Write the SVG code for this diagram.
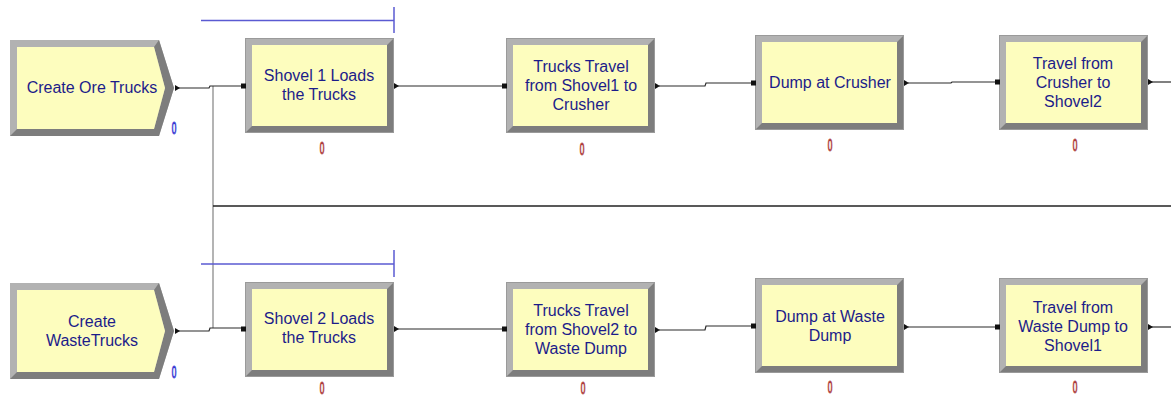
<svg xmlns="http://www.w3.org/2000/svg" xmlns:xlink="http://www.w3.org/1999/xlink" width="1171" height="398" viewBox="0 0 1171 398">
  <style>
    .lbl { font-family: "Liberation Sans", Arial, sans-serif; font-size: 16px; fill: #1c1c8a; text-anchor: middle; }
    .cnt { font-family: "Liberation Sans", Arial, sans-serif; font-size: 16.5px; text-anchor: middle; }
    .cnt-r { fill: #f6dada; stroke: #a83030; stroke-width: 1.1; }
    .cnt-b { fill: #dcdcff; stroke: #2b2bd0; stroke-width: 1.1; }
    .lite { fill: #b2b2b2; }
    .dark { fill: #7d7d7d; }
    .face { fill: #fdfdbe; }
    .link { fill: none; stroke: #2a2a2a; stroke-width: 1.2; }
    .bus { fill: none; stroke: #b4b4b4; stroke-width: 2; }
    .div { fill: none; stroke: #222; stroke-width: 1.5; }
    .res { fill: none; stroke: #5a5ad2; stroke-width: 1.5; }
    .pin { fill: #111; }
  </style>
  <defs>
    <!-- bevelled process module, 149 x 95 -->
    <g id="proc">
      <rect class="lite" x="0" y="0" width="149" height="95"/>
      <polygon class="dark" points="149,0 149,95 0,95 7,88 142,88 142,7"/>
      <rect class="face" x="7" y="7" width="135" height="81"/>
      <rect x="0.5" y="0.5" width="148" height="94" fill="none" stroke="#9a9a9a" stroke-width="1"/>
    </g>
    <!-- arrow-shaped create module, 164 x 96 -->
    <g id="create">
      <polygon class="lite" points="0,0 149,0 164,48 149,96 0,96"/>
      <polygon class="dark" points="149,0 164,48 149,96 0,96 7,89 144,89 155,48 144,7"/>
      <polygon class="face" points="7,7 144,7 155,48 144,89 7,89"/>
    </g>
    <rect id="entry" x="-4" y="-2.5" width="5" height="5" class="pin"/>
    <polygon id="exit" points="0,-3 5,0 0,3" class="pin"/>
  </defs>

  <rect width="1171" height="398" fill="#fff"/>

  <!-- connectors -->
  <g id="connectors">
    <!-- shared bus between the two create modules -->
    <polyline class="bus" points="213,86 213,328"/>
    <line class="div" x1="213" y1="206" x2="1171" y2="206"/>
    <!-- ore route -->
    <polyline class="link" points="178,88 209,88 210,86 241,86"/>
    <polyline class="link" points="397,86 502,86"/>
    <polyline class="link" points="659,86 705,86 706,83 751,83"/>
    <polyline class="link" points="908,83 951,83 952,82 995,82"/>
    <polyline class="link" points="1151,82 1171,82"/>
    <!-- waste route -->
    <polyline class="link" points="178,331 209,331 210,328 241,328"/>
    <polyline class="link" points="397,329 502,329"/>
    <polyline class="link" points="659,330 705,330 706,326 751,326"/>
    <polyline class="link" points="908,327 995,327"/>
    <polyline class="link" points="1151,327 1171,327"/>
    <!-- resource markers -->
    <polyline class="res" points="201,20.5 394,20.5"/>
    <line class="res" x1="394" y1="7" x2="394" y2="33"/>
    <polyline class="res" points="201,264 394,264"/>
    <line class="res" x1="394" y1="250" x2="394" y2="277"/>
  </g>

  <!-- ore truck line -->
  <g id="create-ore">
    <use xlink:href="#create" x="10" y="40"/>
    <use xlink:href="#exit" x="175" y="88"/>
    <text class="lbl" x="92" y="93">Create Ore Trucks</text>
    <text class="cnt cnt-b" transform="translate(174,134) scale(0.5,1)">0</text>
  </g>
  <g id="shovel1">
    <use xlink:href="#proc" x="245" y="38"/>
    <use xlink:href="#entry" x="245" y="86"/>
    <use xlink:href="#exit" x="394" y="86"/>
    <text class="lbl" x="319" y="81">Shovel 1 Loads</text>
    <text class="lbl" x="319" y="100">the Trucks</text>
    <text class="cnt cnt-r" transform="translate(322,154) scale(0.5,1)">0</text>
  </g>
  <g id="travel-shovel1-crusher">
    <use xlink:href="#proc" x="506" y="38"/>
    <use xlink:href="#entry" x="506" y="86"/>
    <use xlink:href="#exit" x="655" y="86"/>
    <text class="lbl" x="581" y="72">Trucks Travel</text>
    <text class="lbl" x="581" y="91">from Shovel1 to</text>
    <text class="lbl" x="581" y="110">Crusher</text>
    <text class="cnt cnt-r" transform="translate(582,155) scale(0.5,1)">0</text>
  </g>
  <g id="dump-crusher">
    <use xlink:href="#proc" x="755" y="35"/>
    <use xlink:href="#entry" x="755" y="83"/>
    <use xlink:href="#exit" x="904" y="83"/>
    <text class="lbl" x="830" y="88">Dump at Crusher</text>
    <text class="cnt cnt-r" transform="translate(830,151) scale(0.5,1)">0</text>
  </g>
  <g id="travel-crusher-shovel2">
    <use xlink:href="#proc" x="999" y="35"/>
    <use xlink:href="#entry" x="999" y="82"/>
    <use xlink:href="#exit" x="1148" y="82"/>
    <text class="lbl" x="1073" y="69">Travel from</text>
    <text class="lbl" x="1073" y="88">Crusher to</text>
    <text class="lbl" x="1073" y="107">Shovel2</text>
    <text class="cnt cnt-r" transform="translate(1075,151) scale(0.5,1)">0</text>
  </g>

  <!-- waste truck line -->
  <g id="create-waste">
    <use xlink:href="#create" x="10" y="283"/>
    <use xlink:href="#exit" x="175" y="331"/>
    <text class="lbl" x="92" y="327">Create</text>
    <text class="lbl" x="92" y="346">WasteTrucks</text>
    <text class="cnt cnt-b" transform="translate(174,378) scale(0.5,1)">0</text>
  </g>
  <g id="shovel2">
    <use xlink:href="#proc" x="245" y="282"/>
    <use xlink:href="#entry" x="245" y="329"/>
    <use xlink:href="#exit" x="394" y="329"/>
    <text class="lbl" x="319" y="324">Shovel 2 Loads</text>
    <text class="lbl" x="319" y="343">the Trucks</text>
    <text class="cnt cnt-r" transform="translate(322,394) scale(0.5,1)">0</text>
  </g>
  <g id="travel-shovel2-waste">
    <use xlink:href="#proc" x="506" y="282"/>
    <use xlink:href="#entry" x="506" y="329"/>
    <use xlink:href="#exit" x="655" y="330"/>
    <text class="lbl" x="581" y="316">Trucks Travel</text>
    <text class="lbl" x="581" y="335">from Shovel2 to</text>
    <text class="lbl" x="581" y="354">Waste Dump</text>
    <text class="cnt cnt-r" transform="translate(583,394) scale(0.5,1)">0</text>
  </g>
  <g id="dump-waste">
    <use xlink:href="#proc" x="755" y="278"/>
    <use xlink:href="#entry" x="755" y="326"/>
    <use xlink:href="#exit" x="904" y="327"/>
    <text class="lbl" x="830" y="322">Dump at Waste</text>
    <text class="lbl" x="830" y="341">Dump</text>
    <text class="cnt cnt-r" transform="translate(830,393) scale(0.5,1)">0</text>
  </g>
  <g id="travel-waste-shovel1">
    <use xlink:href="#proc" x="999" y="278"/>
    <use xlink:href="#entry" x="999" y="327"/>
    <use xlink:href="#exit" x="1148" y="327"/>
    <text class="lbl" x="1073" y="313">Travel from</text>
    <text class="lbl" x="1073" y="332">Waste Dump to</text>
    <text class="lbl" x="1073" y="351">Shovel1</text>
    <text class="cnt cnt-r" transform="translate(1075,393) scale(0.5,1)">0</text>
  </g>
</svg>
